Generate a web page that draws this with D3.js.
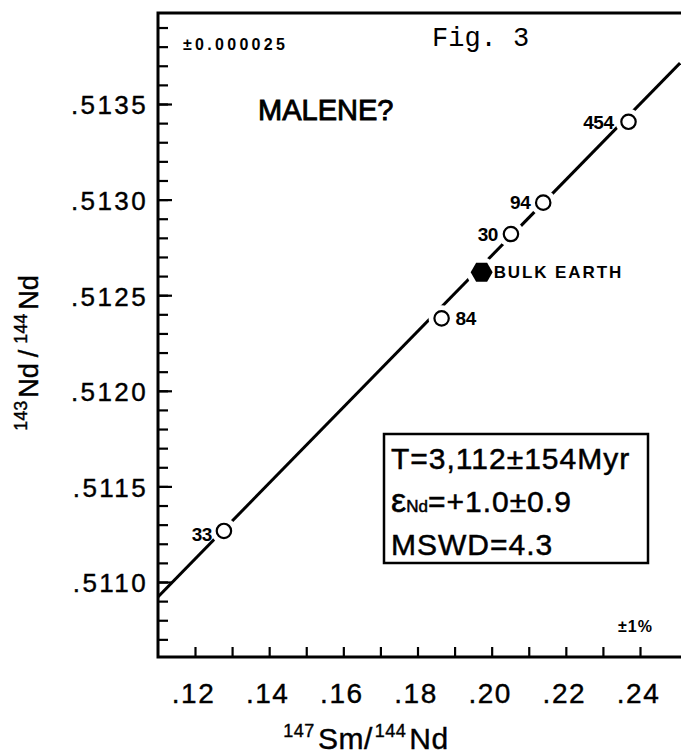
<!DOCTYPE html>
<html><head><meta charset="utf-8">
<script src="https://cdn.jsdelivr.net/npm/d3@7"></script>
<style>body{margin:0;background:#fff} svg{display:block}</style>
</head><body>
<svg id="c" width="681" height="754"></svg>
<script>
// ---- data ----
const sampleIds = ["33", "84", "30", "94", "454"];
const smNd = [0.1278, 0.1865, 0.2052, 0.2139, 0.2369];
const ndNd = [0.511267, 0.512379, 0.512820, 0.512984, 0.513407];
const bulkEarthX = [0.1973];
const bulkEarthY = [0.51262];
const isochronX = [0.11, 0.2508];
const isochronY = [0.510922, 0.513714];
const xMinorTicks = [0.12, 0.13, 0.14, 0.15, 0.16, 0.17, 0.18, 0.19, 0.20, 0.21, 0.22, 0.23, 0.24];
const xLabelTicks = [0.12, 0.14, 0.16, 0.18, 0.20, 0.22, 0.24];
const xTickLabels = [".12", ".14", ".16", ".18", ".20", ".22", ".24"];
const yMajorTicks = [0.5110, 0.5115, 0.5120, 0.5125, 0.5130, 0.5135];
const yTickLabels = [".5110", ".5115", ".5120", ".5125", ".5130", ".5135"];
const statsLines = ["T=3,112±154Myr", "MSWD=4.3"];

// ---- layout ----
const W = 681, H = 754;
const plotLeft = 158, plotTop = 13, plotBottom = 657;
const FONT = "'Liberation Sans', Arial, Helvetica, sans-serif";

const x = d3.scaleLinear().domain([0.12, 0.24]).range([195, 640]);
const y = d3.scaleLinear().domain([0.5110, 0.5135]).range([582, 104]);

const svg = d3.select("#c");
svg.append("rect").attr("width", W).attr("height", H).attr("fill", "#fff");

svg.append("defs").append("clipPath").attr("id", "plot")
  .append("rect").attr("x", plotLeft).attr("y", plotTop).attr("width", W - plotLeft).attr("height", plotBottom - plotTop);

// y minor ticks (every 0.0001 inside the frame)
const yMinor = d3.scaleLinear().domain([0.5107, 0.5139]).ticks(32);
const yAxisMinor = svg.append("g").attr("transform", `translate(${plotLeft},0)`)
  .call(d3.axisLeft(y).tickValues(yMinor).tickSize(-10).tickFormat(""));
const yAxisMajor = svg.append("g").attr("transform", `translate(${plotLeft},0)`)
  .call(d3.axisLeft(y).tickValues(yMajorTicks).tickSize(-14).tickPadding(12)
    .tickFormat((d, i) => yTickLabels[i]));
[yAxisMinor, yAxisMajor].forEach(g => {
  g.select(".domain").remove();
  g.selectAll(".tick line").attr("stroke", "#000").attr("stroke-width", 2.2);
});
yAxisMajor.selectAll(".tick text")
  .attr("font-family", FONT).attr("font-size", 26).attr("letter-spacing", 2.4)
  .attr("fill", "#000").attr("stroke", "#000").attr("stroke-width", 0.4)
  .attr("dy", "0.38em").attr("dx", 2);

// x ticks
const xAxisMinor = svg.append("g").attr("transform", `translate(0,${plotBottom})`)
  .call(d3.axisBottom(x).tickValues(xMinorTicks).tickSize(-10).tickFormat(""));
const xAxisMajor = svg.append("g").attr("transform", `translate(0,${plotBottom})`)
  .call(d3.axisBottom(x).tickValues(xLabelTicks).tickSize(0).tickPadding(26)
    .tickFormat((d, i) => xTickLabels[i]));
[xAxisMinor, xAxisMajor].forEach(g => {
  g.select(".domain").remove();
  g.selectAll(".tick line").attr("stroke", "#000").attr("stroke-width", 2.2);
});
xAxisMajor.selectAll(".tick text")
  .attr("font-family", FONT).attr("font-size", 28).attr("letter-spacing", 1.5)
  .attr("fill", "#000").attr("stroke", "#000").attr("stroke-width", 0.4).attr("dx", -2);

// frame
svg.append("path")
  .attr("d", `M${W},${plotTop}H${plotLeft}V${plotBottom}H${W}`)
  .attr("fill", "none").attr("stroke", "#000").attr("stroke-width", 3);

// isochron line
const plot = svg.append("g").attr("clip-path", "url(#plot)");
plot.append("path")
  .datum(isochronX.map((v, i) => [v, isochronY[i]]))
  .attr("d", d3.line().x(d => x(d[0])).y(d => y(d[1])))
  .attr("fill", "none").attr("stroke", "#000").attr("stroke-width", 3);

// gaps around markers
const pts = smNd.map((v, i) => ({id: sampleIds[i], sx: v, sy: ndNd[i]}));
plot.selectAll("circle.halo").data(pts).join("circle").attr("class", "halo")
  .attr("cx", d => x(d.sx)).attr("cy", d => y(d.sy)).attr("r", 13).attr("fill", "#fff");
plot.selectAll("circle.halo2").data(bulkEarthX).join("circle").attr("class", "halo2")
  .attr("cx", d => x(d)).attr("cy", (d, i) => y(bulkEarthY[i])).attr("r", 15).attr("fill", "#fff");

// sample circles
plot.selectAll("circle.pt").data(pts).join("circle").attr("class", "pt")
  .attr("cx", d => x(d.sx)).attr("cy", d => y(d.sy)).attr("r", 7.2)
  .attr("fill", "#fff").attr("stroke", "#000").attr("stroke-width", 2.2);

// bulk earth hexagon
const hexR = 11;
const hexPts = d3.range(6).map(k => [hexR * Math.cos(k * Math.PI / 3), hexR * Math.sin(k * Math.PI / 3)]);
plot.selectAll("path.hex").data(bulkEarthX).join("path").attr("class", "hex")
  .attr("transform", (d, i) => `translate(${x(d)},${y(bulkEarthY[i])})`)
  .attr("d", d3.line()(hexPts) + "Z").attr("fill", "#000");

// sample labels
const labelOffsets = {"33": [-12, 3, "end"], "84": [14, 0, "start"], "30": [-13, 0, "end"], "94": [-13, 0, "end"], "454": [-15, 0, "end"]};
svg.selectAll("text.pl").data(pts).join("text").attr("class", "pl")
  .attr("x", d => x(d.sx) + labelOffsets[d.id][0])
  .attr("y", d => y(d.sy) + labelOffsets[d.id][1])
  .attr("dy", "0.36em").attr("text-anchor", d => labelOffsets[d.id][2])
  .attr("font-family", FONT).attr("font-weight", "bold").attr("font-size", 19)
  .attr("letter-spacing", -0.5).text(d => d.id);

svg.selectAll("text.be").data(bulkEarthX).join("text").attr("class", "be")
  .attr("x", d => x(d) + 12).attr("y", (d, i) => y(bulkEarthY[i]))
  .attr("dy", "0.36em").attr("font-family", FONT).attr("font-weight", "bold")
  .attr("font-size", 17).attr("letter-spacing", 1.9).text("BULK EARTH");

// annotations
svg.append("text").attr("x", 183).attr("y", 50).attr("font-family", FONT)
  .attr("font-weight", "bold").attr("font-size", 16).attr("letter-spacing", 3.3).text("±0.000025");
svg.append("text").attr("x", 432).attr("y", 46).attr("font-family", "'Liberation Mono', 'Courier New', monospace")
  .attr("font-size", 27).text("Fig. 3");
svg.append("text").attr("x", 258).attr("y", 120).attr("font-family", FONT)
  .attr("font-size", 29).attr("stroke", "#000").attr("stroke-width", 0.9).text("MALENE?");
svg.append("text").attr("x", 618).attr("y", 632).attr("font-family", FONT)
  .attr("font-weight", "bold").attr("font-size", 16).attr("letter-spacing", 1).text("±1%");

// stats box
svg.append("rect").attr("x", 384).attr("y", 434).attr("width", 264).attr("height", 129)
  .attr("fill", "#fff").attr("stroke", "#000").attr("stroke-width", 2.5);
const sb = svg.append("g").attr("font-family", FONT).attr("font-size", 30).attr("letter-spacing", 1)
  .attr("stroke", "#000").attr("stroke-width", 0.5);
sb.append("text").attr("x", 391).attr("y", 469).text(statsLines[0]);
const eps = sb.append("text").attr("x", 391).attr("y", 512);
eps.append("tspan").attr("font-size", 34).attr("letter-spacing", 0).text("ε");
eps.append("tspan").attr("font-size", 17).attr("letter-spacing", 0).text("Nd");
eps.append("tspan").text("=+1.0±0.9");
sb.append("text").attr("x", 391).attr("y", 555).text(statsLines[1]);

// axis titles
const xt = svg.append("text").attr("x", 366).attr("y", 749).attr("text-anchor", "middle")
  .attr("font-family", FONT).attr("font-size", 30).attr("letter-spacing", 0.5)
  .attr("stroke", "#000").attr("stroke-width", 0.4);
xt.append("tspan").attr("font-size", 18).attr("dy", -12).text("147");
xt.append("tspan").attr("dy", 12).attr("dx", 3).text("Sm/");
xt.append("tspan").attr("font-size", 18).attr("dy", -12).attr("dx", 2).text("144");
xt.append("tspan").attr("dy", 12).attr("dx", 3).text("Nd");

const yt = svg.append("text").attr("transform", "translate(38,353) rotate(-90)")
  .attr("text-anchor", "middle").attr("font-family", FONT).attr("font-size", 27)
  .attr("stroke", "#000").attr("stroke-width", 0.4);
yt.append("tspan").attr("font-size", 18).attr("dy", -11).text("143");
yt.append("tspan").attr("dy", 11).attr("dx", 3).text("Nd");
yt.append("tspan").attr("dx", 6).text("/");
yt.append("tspan").attr("font-size", 18).attr("dy", -11).attr("dx", 6).text("144");
yt.append("tspan").attr("dy", 11).attr("dx", 4).text("Nd");
</script>
</body></html>
